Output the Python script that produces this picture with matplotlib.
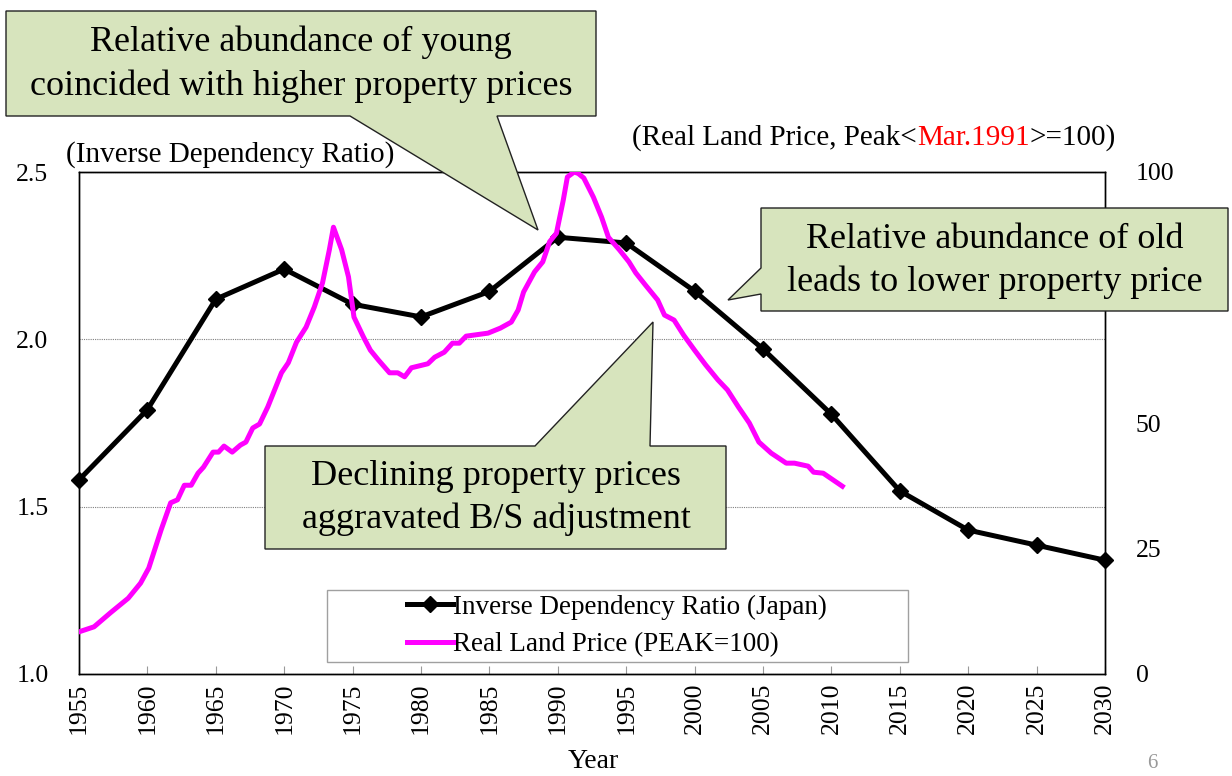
import numpy as np
import matplotlib
matplotlib.use("Agg")
import matplotlib.pyplot as plt
from matplotlib.patches import Polygon, Rectangle

plt.rcParams['font.family'] = ['Liberation Serif', 'DejaVu Serif']

# ==============================
# Data
# ==============================
ratio_years = [1955, 1960, 1965, 1970, 1975, 1980, 1985, 1990,
               1995, 2000, 2005, 2010, 2015, 2020, 2025, 2030]
ratio_vals = [1.58, 1.79, 2.12, 2.21, 2.105, 2.067, 2.143, 2.305,
              2.288, 2.144, 1.971, 1.776, 1.547, 1.43, 1.385, 1.34]

land_years = [1955.0, 1956.1, 1957.3, 1958.6, 1959.5, 1960.1, 1961.0, 1961.7,
              1962.2, 1962.7, 1963.2, 1963.7, 1964.1, 1964.8, 1965.2, 1965.6,
              1966.2, 1966.8, 1967.2, 1967.7, 1968.2, 1968.8, 1969.8, 1970.3,
              1970.9, 1971.6, 1972.2, 1972.8, 1973.3, 1973.6, 1974.2, 1974.7,
              1975.1, 1975.8, 1976.3, 1976.9, 1977.7, 1978.3, 1978.8, 1979.3,
              1980.5, 1981.0, 1981.7, 1982.3, 1982.8, 1983.3, 1984.9, 1985.8,
              1986.6, 1987.1, 1987.5, 1988.3, 1988.9, 1989.4, 1989.9, 1990.4,
              1990.7, 1991.2, 1991.5, 1991.9, 1992.6, 1993.2, 1993.7, 1994.5,
              1995.2, 1995.7, 1996.4, 1997.3, 1997.8, 1998.5, 1999.2, 2000.0,
              2000.8, 2001.7, 2002.4, 2003.2, 2004.0, 2004.7, 2005.6, 2006.7,
              2007.3, 2008.3, 2008.7, 2009.4, 2010.8]
land_vals = [8.4, 9.4, 12.2, 15.1, 18.1, 21.1, 28.7, 34.1,
             34.7, 37.6, 37.6, 40.0, 41.2, 44.2, 44.2, 45.4,
             44.2, 45.6, 46.2, 49.0, 49.8, 53.2, 60.0, 62.0,
             66.1, 69.1, 73.1, 77.9, 84.5, 89.0, 84.5, 79.1,
             71.1, 67.1, 64.5, 62.5, 60.0, 60.0, 59.2, 61.0,
             61.8, 63.1, 64.1, 65.9, 65.9, 67.3, 67.9, 68.9,
             70.1, 72.5, 76.1, 80.1, 82.1, 86.1, 87.8, 94.4,
             99.0, 100.0, 99.7, 98.8, 95.0, 91.0, 87.0, 84.5,
             82.1, 79.9, 77.5, 74.5, 71.5, 70.5, 67.5, 64.5,
             61.6, 58.6, 56.6, 53.2, 50.0, 46.2, 44.0, 42.0,
             42.0, 41.4, 40.2, 40.0, 37.4]

x_ticks = list(range(1955, 2031, 5))
left_ticks = [1.0, 1.5, 2.0, 2.5]
right_ticks = [0, 25, 50, 100]   # 75 is hidden behind a callout in the original

label_ratio = "Inverse Dependency Ratio (Japan)"
label_land = "Real Land Price (PEAK=100)"

callouts = [
    # box polygon in figure pixels (y down), text centre, lines
    ([(6, 11), (596, 11), (596, 116), (497, 116), (538, 230), (350, 116), (6, 116)],
     (301, 64), "Relative abundance of young\ncoincided with higher property prices"),
    ([(761, 208), (1228, 208), (1228, 311), (761, 311), (761, 294), (728, 300), (761, 268)],
     (995, 261), "Relative abundance of old\nleads to lower property price"),
    ([(265, 446), (535, 446), (653, 322), (650, 446), (726, 446), (726, 549), (265, 549)],
     (496, 498), "Declining property prices\naggravated B/S adjustment"),
]

W, H = 1232, 776
fig = plt.figure(figsize=(W / 100, H / 100), dpi=100)
L, R, T, B = 79, 1105, 172, 674
ax = fig.add_axes([L / W, (H - B) / H, (R - L) / W, (B - T) / H])
ax2 = ax.twinx()

l1, = ax.plot(ratio_years, ratio_vals, color="black", lw=3.6,
              marker="D", markersize=8, zorder=3, clip_on=False)
l2, = ax2.plot(land_years, land_vals, color="#FF00FF", lw=3.6, zorder=3)

ax.set_xlim(1955, 2030)
ax.set_ylim(1.0, 2.5)
ax2.set_ylim(0, 100)
ax.set_xticks(x_ticks)
ax.set_xticklabels([str(y) for y in x_ticks], rotation=90)
ax.set_yticks(left_ticks)
ax.set_yticklabels([f"{v:.1f}" for v in left_ticks])
ax2.set_yticks(right_ticks)
ax2.set_yticklabels([str(v) for v in right_ticks])

ax.grid(axis="y", color="#808080", linestyle=(0, (1, 1)), lw=0.8)
ax.tick_params(axis="x", direction="in", length=6, width=0.8, color="#999999",
               labelsize=18.5, pad=6)
ax.tick_params(axis="y", length=0, labelsize=18.5, pad=22)
ax2.tick_params(axis="y", length=0, labelsize=18.5, pad=22)
for a in (ax, ax2):
    for s in a.spines.values():
        s.set_linewidth(1.0)

# overlay in pixel coords for callouts, legend, titles
ov = fig.add_axes([0, 0, 1, 1], zorder=10)
ov.set_xlim(0, W)
ov.set_ylim(H, 0)
ov.axis("off")
ov.patch.set_alpha(0)

for poly, (cx, cy), txt in callouts:
    ov.add_patch(Polygon(poly, closed=True, facecolor="#D7E4BD",
                         edgecolor="#222222", lw=1.0))
    ov.text(cx, cy, txt, ha="center", va="center", fontsize=26,
            linespacing=1.4)

ov.add_patch(Rectangle((327, 590), 581, 72, facecolor="white",
                       edgecolor="#A0A0A0", lw=1.0))
ov.legend([l1, l2], [label_ratio, label_land], loc="center",
          bbox_to_anchor=(617 / W, (H - 626) / H), bbox_transform=fig.transFigure,
          frameon=False, fontsize=19.5, handlelength=1.7, handletextpad=0.0,
          labelspacing=0.45, borderpad=0.2)

ov.text(66, 155, "(Inverse Dependency Ratio)", ha="left", va="center", fontsize=21)
t1 = ov.text(632, 138, "(Real Land Price, Peak<", ha="left", va="center", fontsize=21)
t2 = ov.annotate("Mar.1991", xy=(1, 0), xycoords=t1, va="bottom", ha="left",
                 fontsize=21, color="#FF0000")
ov.annotate(">=100)", xy=(1, 0), xycoords=t2, va="bottom", ha="left", fontsize=21)

ov.text(593, 762, "Year", ha="center", va="center", fontsize=20)
ov.text(1152, 764, "6", ha="center", va="center", fontsize=15, color="#999999")

fig.savefig("out.png", dpi=100)
